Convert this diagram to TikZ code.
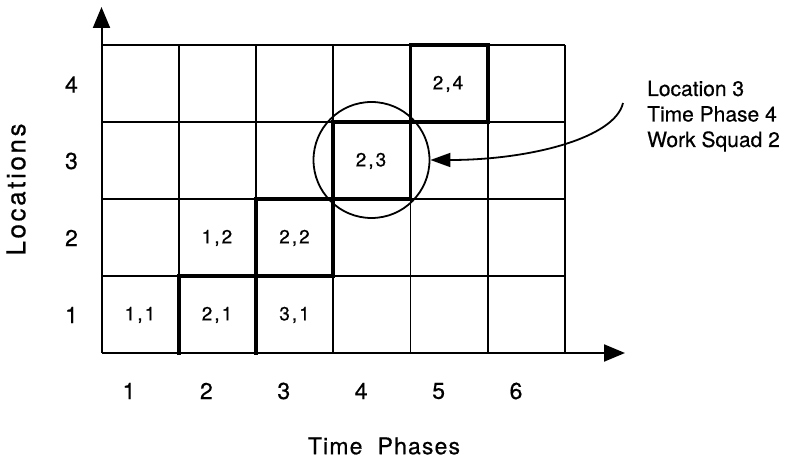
\documentclass[tikz,border=0pt]{standalone}
\usepackage{fontspec}
\setmainfont{TeX Gyre Heros}[FakeBold=0.5]
\newfontfamily\spacedA{TeX Gyre Heros}[LetterSpace=10,FakeBold=0.5]
\newfontfamily\spacedB{TeX Gyre Heros}[LetterSpace=5,FakeBold=0.5]
\usetikzlibrary{arrows.meta}
\newcommand{\cellpair}[2]{#1\kern2pt,\kern2pt#2}
\tikzset{
  thin grid/.style={line width=1.8pt},
  thick cell/.style={line width=3.6pt, line cap=rect},
  axis/.style={line width=2pt, -{Triangle[length=21pt,width=17pt]}},
  celllabel/.style={font=\fontsize{19}{21}\selectfont, inner sep=0pt},
  ticklabel/.style={font=\fontsize{23}{25}\selectfont, inner sep=0pt},
  notelabel/.style={font=\fontsize{21}{24}\selectfont, inner sep=0pt, anchor=base west},
}
\begin{document}
\begin{tikzpicture}[x=1pt,y=-1pt]
\useasboundingbox (0,0) rectangle (792,462);
% grid
\foreach \i in {1,...,6} {
  \draw[thin grid] ({101.5+77.25*\i},353) -- ({101.5+77.25*\i},45);
}
\foreach \j in {1,...,4} {
  \draw[thin grid] (101.5,{353-77*\j}) -- (565,{353-77*\j});
}
% thick cells (work squad 2)
\draw[thick cell] (178.75,353) -- (178.75,276) -- (256,276) -- (256,353);
\foreach \c/\r in {3/2,4/3,5/4} {
  \draw[thick cell] ({101.5+77.25*(\c-1)},{353-77*(\r-1)}) rectangle ({101.5+77.25*\c},{353-77*\r});
}
% axes
\coordinate (origin) at (101.5,353);
\coordinate (ytip) at (101.5,7);
\coordinate (xtip) at (625,353);
\draw[axis] (origin) -- (ytip);
\draw[axis] (origin) -- (xtip);
% cell labels
\node[celllabel] (c11) at (140,315) {\cellpair{1}{1}};
\node[celllabel] (c21) at (217,315) {\cellpair{2}{1}};
\node[celllabel] (c31) at (294.5,315) {\cellpair{3}{1}};
\node[celllabel] (c12) at (217,238) {\cellpair{1}{2}};
\node[celllabel] (c22) at (294.5,238) {\cellpair{2}{2}};
\node[celllabel] (c23) at (371,161) {\cellpair{2}{3}};
\node[celllabel] (c24) at (448,84) {\cellpair{2}{4}};
% circle
\node[circle, draw, line width=1.8pt, minimum size=116pt, inner sep=0pt] (circ) at (371.5,160) {};
% row labels
\node[ticklabel] (r4) at (71.5,84.5) {4};
\node[ticklabel] (r3) at (71.5,161) {3};
\node[ticklabel] (r2) at (71.5,238) {2};
\node[ticklabel] (r1) at (71.5,315) {1};
% column labels
\foreach \k in {1,...,6} {
  \node[ticklabel] (t\k) at ({129+77.4*(\k-1)},391) {\k};
}
% axis titles
\node[inner sep=0pt, rotate=90, font=\spacedA\fontsize{26}{28}\selectfont] (ylab) at (16,189.5) {Locations};
\node[inner sep=0pt, font=\spacedB\fontsize{23}{25}\selectfont] (xlab) at (384,446) {Time\ \ Phases};
% note
\node[notelabel] (n1) at (647,96) {Location 3};
\node[notelabel] (n2) at (647,121.5) {Time Phase 4};
\node[notelabel] (n3) at (647,147) {Work Squad 2};
\coordinate (cstart) at (623,103);
\draw[line width=1.8pt, -{Triangle[length=20pt,width=14pt]}] (cstart) .. controls (615,138) and (530,160) .. (circ.east);
\end{tikzpicture}
\end{document}
